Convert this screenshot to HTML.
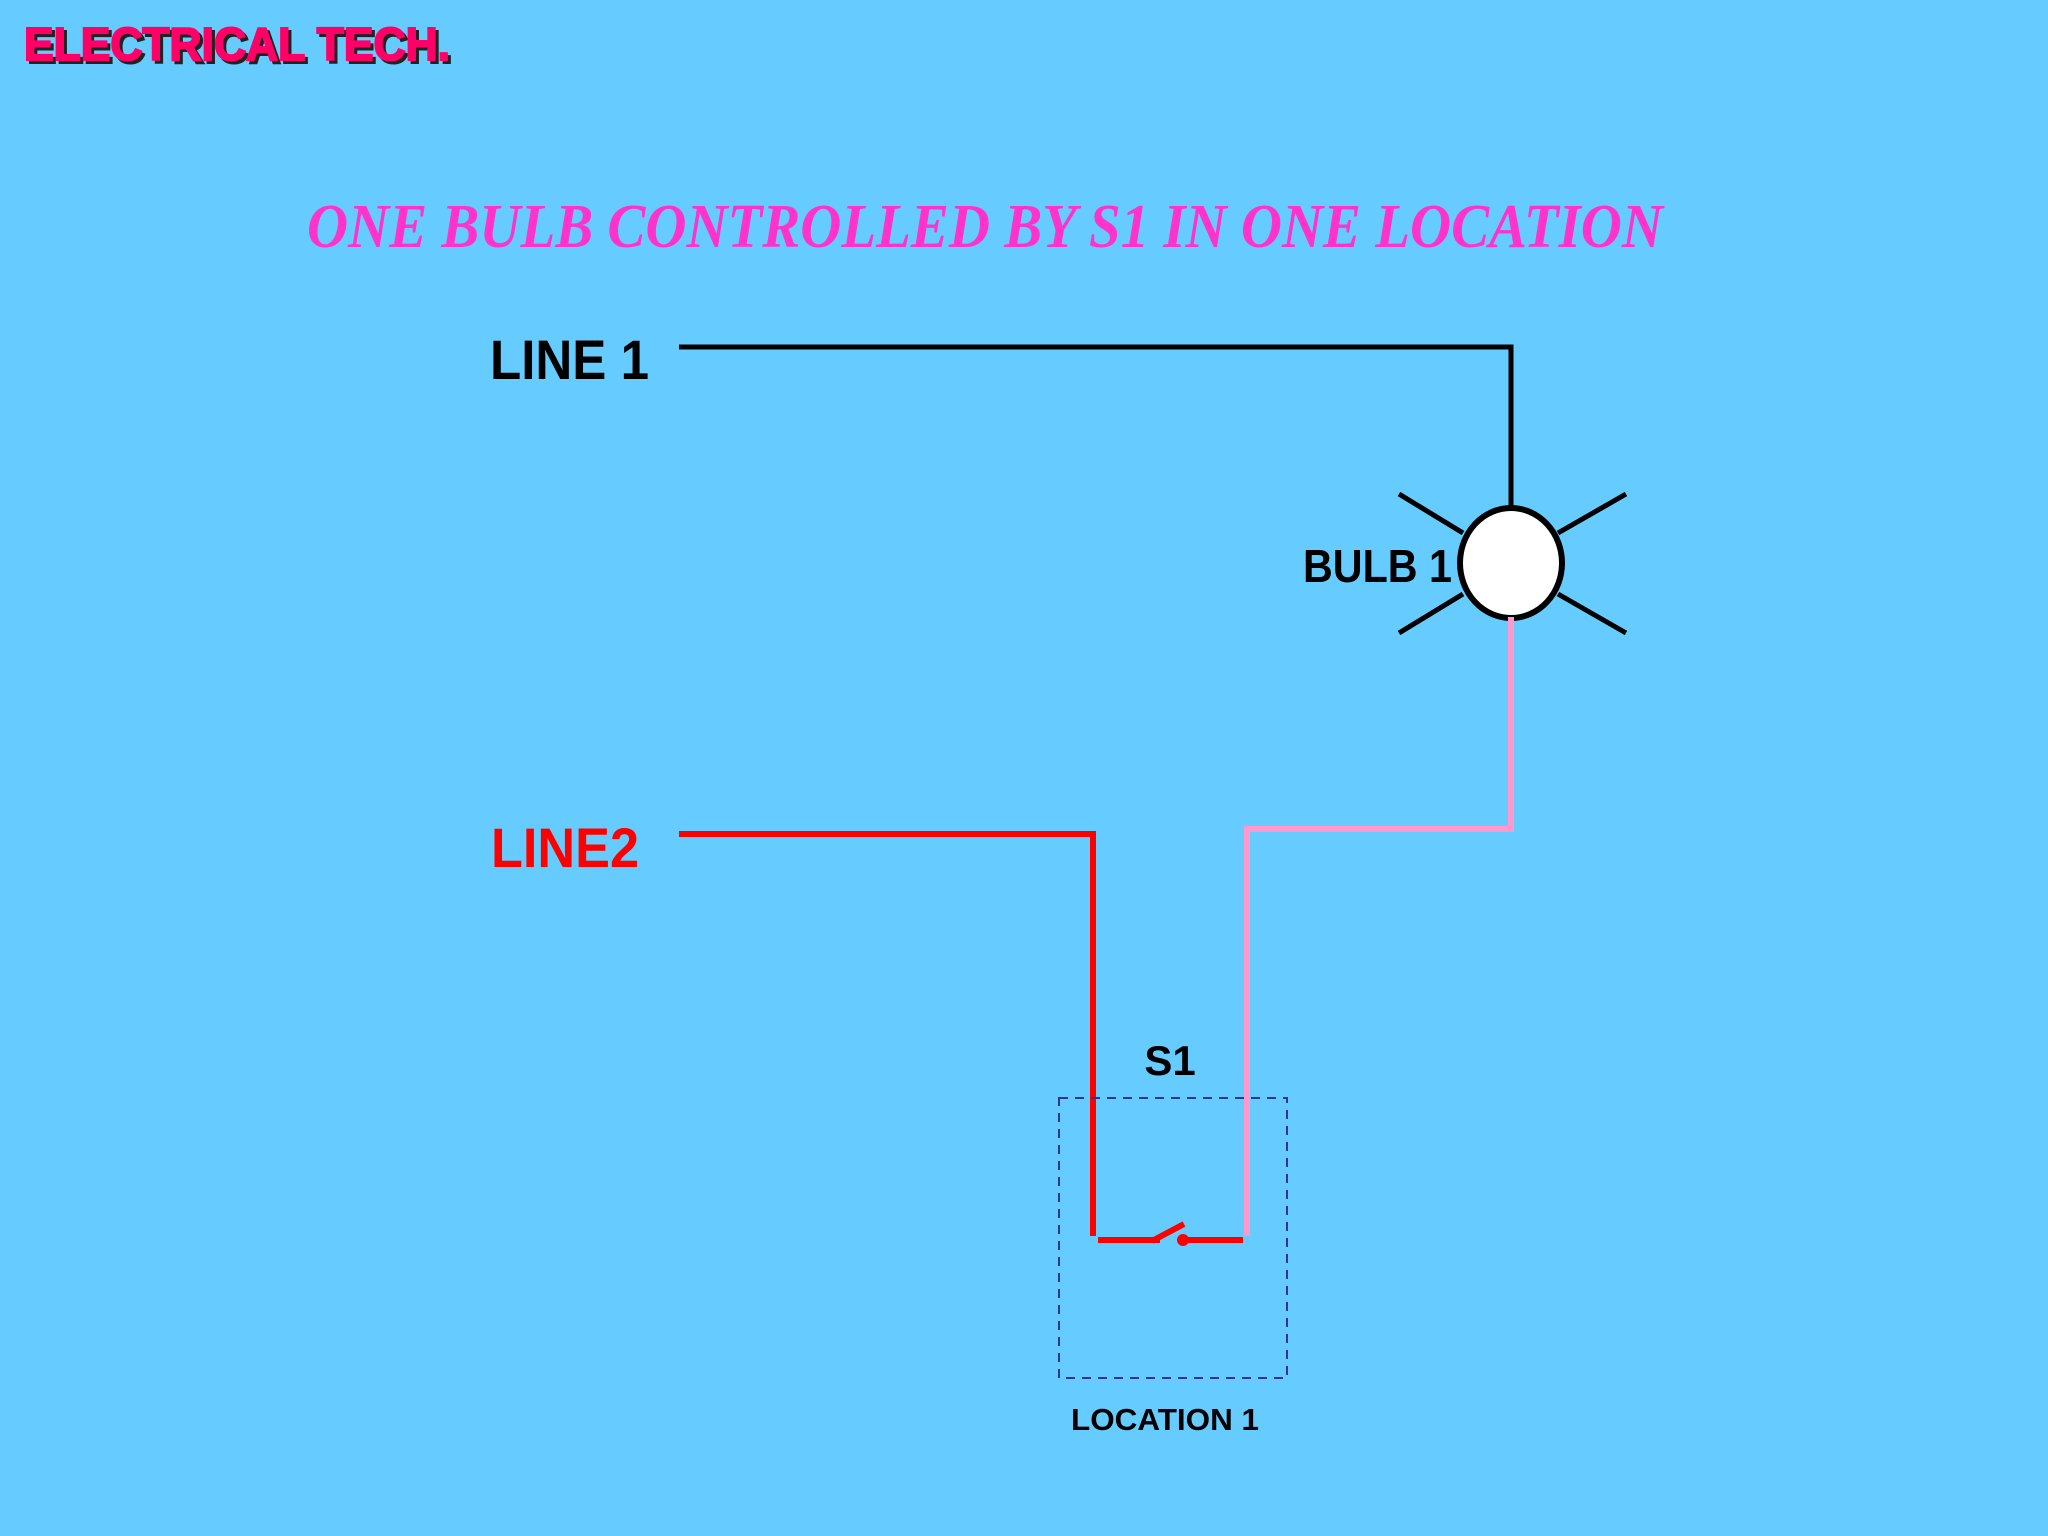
<!DOCTYPE html>
<html><head><meta charset="utf-8"><style>
html,body{margin:0;padding:0;background:#66ccff;}
svg{display:block}
</style></head><body>
<svg width="2048" height="1536" viewBox="0 0 2048 1536" xmlns="http://www.w3.org/2000/svg">
<rect width="2048" height="1536" fill="#66ccff"/>
<text x="27" y="63" font-family="Liberation Sans, sans-serif" font-weight="bold" font-size="46" fill="#222" stroke="#222" stroke-width="2" textLength="426" lengthAdjust="spacingAndGlyphs">ELECTRICAL TECH.</text>
<text x="24" y="60" font-family="Liberation Sans, sans-serif" font-weight="bold" font-size="46" fill="#ff0066" stroke="#ff0066" stroke-width="2" textLength="426" lengthAdjust="spacingAndGlyphs">ELECTRICAL TECH.</text>
<text x="307" y="247" font-family="Liberation Serif, serif" font-style="italic" font-weight="bold" font-size="62" fill="#ff33cc" textLength="1356" lengthAdjust="spacingAndGlyphs">ONE BULB CONTROLLED BY S1 IN ONE LOCATION</text>
<text x="490" y="379" font-family="Liberation Sans, sans-serif" font-weight="bold" font-size="56" fill="#000" textLength="159" lengthAdjust="spacingAndGlyphs">LINE 1</text>
<text x="491" y="867" font-family="Liberation Sans, sans-serif" font-weight="bold" font-size="56" fill="#ff0000" textLength="148" lengthAdjust="spacingAndGlyphs">LINE2</text>
<polyline points="679,347 1511,347 1511,507" fill="none" stroke="#000" stroke-width="5"/>
<g stroke="#000" stroke-width="5">
<line x1="1399" y1="494" x2="1463" y2="533"/>
<line x1="1626" y1="494" x2="1558" y2="533"/>
<line x1="1399" y1="633" x2="1463" y2="594"/>
<line x1="1626" y1="633" x2="1558" y2="594"/>
</g>
<ellipse cx="1511" cy="563" rx="51" ry="55" fill="#fff" stroke="#000" stroke-width="6"/>
<text x="1303" y="582" font-family="Liberation Sans, sans-serif" font-weight="bold" font-size="46" fill="#000" textLength="149" lengthAdjust="spacingAndGlyphs">BULB 1</text>
<polyline points="1511,617 1511,829 1247,829 1247,1236" fill="none" stroke="#ff99cc" stroke-width="6"/>
<polyline points="679,834 1093,834 1093,1236" fill="none" stroke="#ff0000" stroke-width="6"/>
<line x1="1098" y1="1240" x2="1160" y2="1240" stroke="#ff0000" stroke-width="6"/>
<line x1="1152" y1="1241" x2="1184" y2="1224" stroke="#ff0000" stroke-width="6"/>
<circle cx="1183" cy="1240" r="6" fill="#ff0000"/>
<line x1="1183" y1="1240" x2="1243" y2="1240" stroke="#ff0000" stroke-width="6"/>
<rect x="1059" y="1098" width="228" height="280" fill="none" stroke="#333399" stroke-width="2" stroke-dasharray="9,7"/>
<text x="1170" y="1075" text-anchor="middle" font-family="Liberation Sans, sans-serif" font-weight="bold" font-size="42" fill="#000">S1</text>
<text x="1071" y="1430" font-family="Liberation Sans, sans-serif" font-weight="bold" font-size="31" fill="#000" textLength="188" lengthAdjust="spacingAndGlyphs">LOCATION 1</text>
</svg>
</body></html>
